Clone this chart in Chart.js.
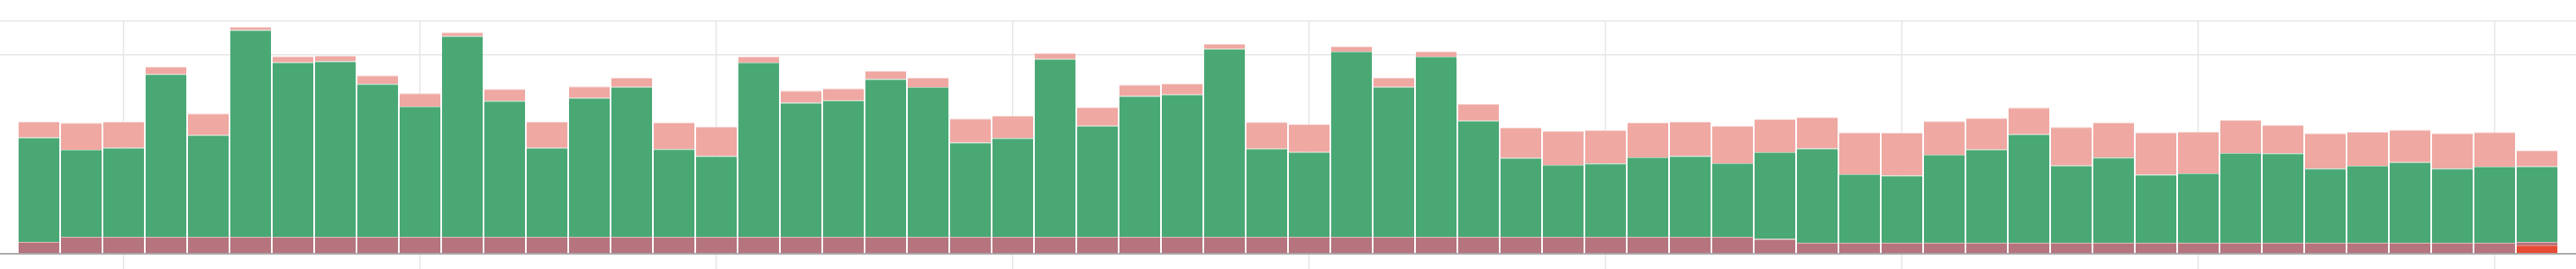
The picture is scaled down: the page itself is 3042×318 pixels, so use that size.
<!DOCTYPE html>
<html lang="en">
  <head>
    <meta charset="UTF-8" />
    <title>Daily stacked bars</title>
    <script src="https://cdn.jsdelivr.net/npm/chart.js"></script>
    <style>
      html, body { margin: 0; padding: 0; background: #fff; }
      .chart-container { width: 3042px; height: 318px; position: relative; }
    </style>
  </head>
  <body>
    <div class="chart-container">
      <canvas id="barChart"></canvas>
    </div>
    <script>
      // days shown on the x axis
      const days = [
        1, 2, 3, 4, 5, 6, 7, 8, 9, 10, 11, 12, 13, 14, 15, 16, 17, 18, 19, 20,
        21, 22, 23, 24, 25, 26, 27, 28, 29, 30, 31, 32, 33, 34, 35, 36, 37, 38, 39, 40,
        41, 42, 43, 44, 45, 46, 47, 48, 49, 50, 51, 52, 53, 54, 55, 56, 57, 58, 59, 60
      ];
      // weekly grid lines
      const weekTicks = [3, 10, 17, 24, 31, 38, 45, 52, 59];
      const yTicks = [0, 100, 117];

      // bottom: red, only on the last day
      const redValues = [
        0, 0, 0, 0, 0, 0, 0, 0, 0, 0, 0, 0, 0, 0, 0, 0, 0, 0, 0, 0,
        0, 0, 0, 0, 0, 0, 0, 0, 0, 0, 0, 0, 0, 0, 0, 0, 0, 0, 0, 0,
        0, 0, 0, 0, 0, 0, 0, 0, 0, 0, 0, 0, 0, 0, 0, 0, 0, 0, 0, 4.3
      ];
      const baseValues = [
        6.0, 8.5, 8.5, 8.5, 8.5, 8.5, 8.5, 8.5, 8.5, 8.5, 8.5, 8.5, 8.5, 8.5, 8.5, 8.5, 8.5, 8.5, 8.5, 8.5,
        8.5, 8.5, 8.5, 8.5, 8.5, 8.5, 8.5, 8.5, 8.5, 8.5, 8.5, 8.5, 8.5, 8.5, 8.5, 8.5, 8.5, 8.5, 8.5, 8.5,
        8.5, 7.4, 5.5, 5.5, 5.5, 5.5, 5.5, 5.5, 5.5, 5.5, 5.5, 5.5, 5.5, 5.5, 5.5, 5.5, 5.5, 5.5, 5.5, 1.7
      ];
      const greenValues = [
        52.5, 43.8, 44.8, 81.8, 51.2, 104.0, 87.8, 88.3, 76.9, 65.5,
        101.0, 68.4, 44.8, 69.9, 75.4, 44.2, 40.6, 87.7, 67.4, 68.6,
        79.4, 75.3, 47.4, 49.7, 89.5, 55.9, 70.8, 71.6, 94.6, 44.4,
        42.7, 93.2, 75.4, 90.6, 58.4, 39.7, 36.2, 36.9, 40.0, 40.6,
        37.0, 43.7, 47.5, 34.5, 33.9, 44.3, 46.9, 54.6, 38.9, 42.9,
        34.3, 34.9, 45.1, 45.0, 37.4, 38.7, 40.6, 37.4, 38.3, 37.9
      ];
      const pinkValues = [
        8.0, 13.5, 13.1, 3.7, 10.8, 1.6, 3.0, 2.8, 4.3, 6.7,
        1.9, 6.0, 13.1, 5.7, 4.7, 13.3, 14.8, 3.0, 6.1, 6.1,
        4.1, 4.8, 12.1, 11.2, 2.9, 9.2, 5.7, 5.4, 2.4, 13.4,
        14.0, 2.6, 4.7, 2.7, 8.5, 15.3, 17.0, 16.7, 17.4, 17.3,
        18.7, 16.5, 15.7, 21.1, 21.4, 16.9, 15.9, 13.4, 19.3, 17.6,
        21.3, 21.0, 16.6, 14.3, 17.7, 17.1, 16.2, 17.7, 17.4, 8.0
      ];

      function segment(label, data, color, edge) {
        return {
          label: label,
          data: data,
          backgroundColor: color,
          borderColor: edge,
          borderWidth: { top: 1 },
          barPercentage: 0.96,
          categoryPercentage: 1
        };
      }

      const ctx = document.getElementById('barChart').getContext('2d');
      new Chart(ctx, {
        type: 'bar',
        data: {
          labels: days,
          datasets: [
            segment('Red', redValues, '#e84b35', '#f08a7c'),
            segment('Base', baseValues, '#b5747e', '#e9b9bd'),
            segment('Green', greenValues, '#4aa875', '#9ed3b4'),
            segment('Pink', pinkValues, '#efa8a2', '#f7d2cf')
          ]
        },
        options: {
          animation: false,
          responsive: true,
          maintainAspectRatio: false,
          layout: { padding: { top: 25, left: 0, right: 0, bottom: 0 } },
          plugins: { legend: { display: false }, tooltip: { enabled: false } },
          scales: {
            x: {
              type: 'linear',
              stacked: true,
              offset: false,
              min: 0.08,
              max: 60.92,
              afterBuildTicks: axis => { axis.ticks = weekTicks.map(v => ({ value: v })); },
              ticks: { display: false },
              grid: { offset: false, color: '#e6e6e6', lineWidth: 1.5, tickLength: 18 },
              border: { color: '#aaaaaa', width: 2 }
            },
            y: {
              stacked: true,
              min: 0,
              max: 117,
              afterBuildTicks: axis => { axis.ticks = yTicks.map(v => ({ value: v })); },
              ticks: { display: false },
              grid: { color: '#e6e6e6', lineWidth: 1.5, drawTicks: false },
              border: { display: false }
            }
          }
        }
      });
    </script>
  </body>
</html>
